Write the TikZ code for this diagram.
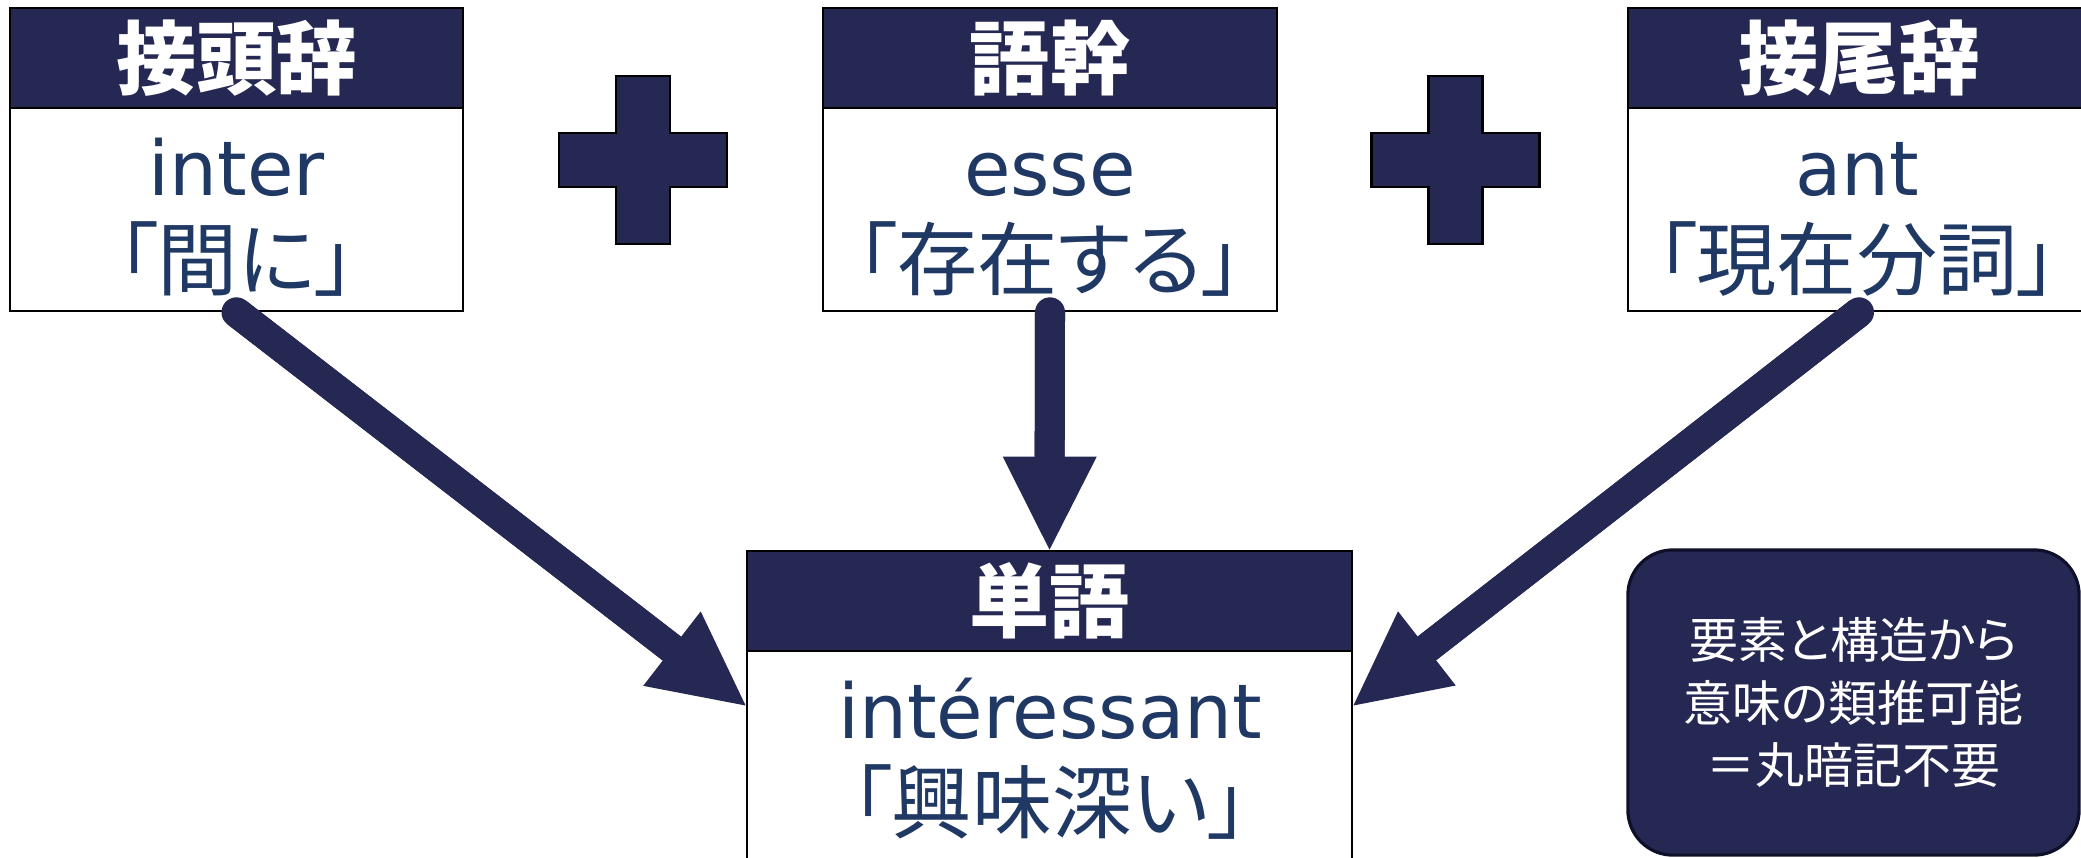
\documentclass[tikz,border=0pt]{standalone}
\usepackage{fontspec}
\setmainfont{Noto Sans CJK JP}[RawFeature=+palt]
\newfontfamily\latinfont{DejaVu Sans}
\usetikzlibrary{arrows.meta}
\definecolor{navy}{RGB}{38,40,84}
\definecolor{textblue}{RGB}{31,56,100}
\definecolor{noteborder}{RGB}{14,15,40}
\begin{document}
\begin{tikzpicture}[x=0.01cm, y=0.01cm,
  box/.style={draw=black, line width=0.7pt, fill=white, inner sep=0pt, minimum height=3.03cm},
  header/.style={draw=black, line width=0.7pt, fill=navy, text=white, inner sep=0pt,
    minimum height=1cm, anchor=north, font=\bfseries\fontsize{22.8}{26}\selectfont},
  latin/.style={anchor=base, inner sep=0pt, text=textblue, font=\latinfont\fontsize{21.5}{25}\selectfont},
  jline/.style={anchor=base, inner sep=0pt, text=textblue, font=\fontsize{22.8}{26}\selectfont},
  plussign/.pic={\filldraw[fill=navy, draw=black, line width=0.6pt]
    (-27,-84) -- (27,-84) -- (27,-27) -- (84,-27) -- (84,27) -- (27,27) -- (27,84)
    -- (-27,84) -- (-27,27) -- (-84,27) -- (-84,-27) -- (-27,-27) -- cycle;},
  bigarrow/.style={draw=navy, line width=0.3cm, line cap=butt,
    -{Triangle[width=0.94cm, length=0.93cm, line width=0pt]}},
  shaft/.style={draw=navy, line width=0.3cm, line cap=round, shorten >=0.5cm},
  note/.style={draw=noteborder, line width=0.9pt, fill=navy, rounded corners=0.45cm,
    minimum width=4.51cm, minimum height=3.05cm, text=white, align=center, inner sep=0pt,
    font=\fontsize{13.9}{17.8}\selectfont}
]
\useasboundingbox (0,0) rectangle (2081,-857);
\clip (0,0) rectangle (2081,-857);

% boxes
\node[box, minimum width=4.53cm] (b1) at (236.5,-159.5) {};
\node[header, minimum width=4.53cm] (h1) at (b1.north) {接頭辞};
\node[box, minimum width=4.54cm] (b2) at (1050,-159.5) {};
\node[header, minimum width=4.54cm] (h2) at (b2.north) {語幹};
\node[box, minimum width=4.62cm] (b3) at (1859,-159.5) {};
\node[header, minimum width=4.62cm] (h3) at (b3.north) {接尾辞};
\node[box, minimum width=6.05cm, minimum height=3.09cm] (b4) at (1049.5,-705.5) {};
\node[header, minimum width=6.05cm] (h4) at (b4.north) {単語};

% texts
\node[latin] (t1a) at (236.5,-195) {inter};
\node[jline] (t1b) at (236.5,-289) {「間に」};
\node[latin] (t2a) at (1050,-195) {esse};
\node[jline] (t2b) at (1050,-289) {「存在する」};
\node[latin] (t3a) at (1857,-195) {ant};
\node[jline] (t3b) at (1857,-289) {「現在分詞」};
\node[latin] (t4a) at (1050,-738) {intéressant};
\node[jline] (t4b) at (1050,-832) {「興味深い」};

% plus signs
\pic at (643,-160) {plussign};
\pic at (1455.5,-160) {plussign};

% note
\node[note] (n) at (1853.5,-702.5) {要素と構造から\\意味の類推可能\\＝丸暗記不要};

% arrows
\draw[bigarrow] (b1.south) -- (b4.west);
\draw[bigarrow] (b2.south) -- (b4.north);
\draw[bigarrow] (b3.south) -- (b4.east);
\draw[shaft] (b1.south) -- (b4.west);
\draw[shaft] (b2.south) -- (b4.north);
\draw[shaft] (b3.south) -- (b4.east);
\end{tikzpicture}
\end{document}
